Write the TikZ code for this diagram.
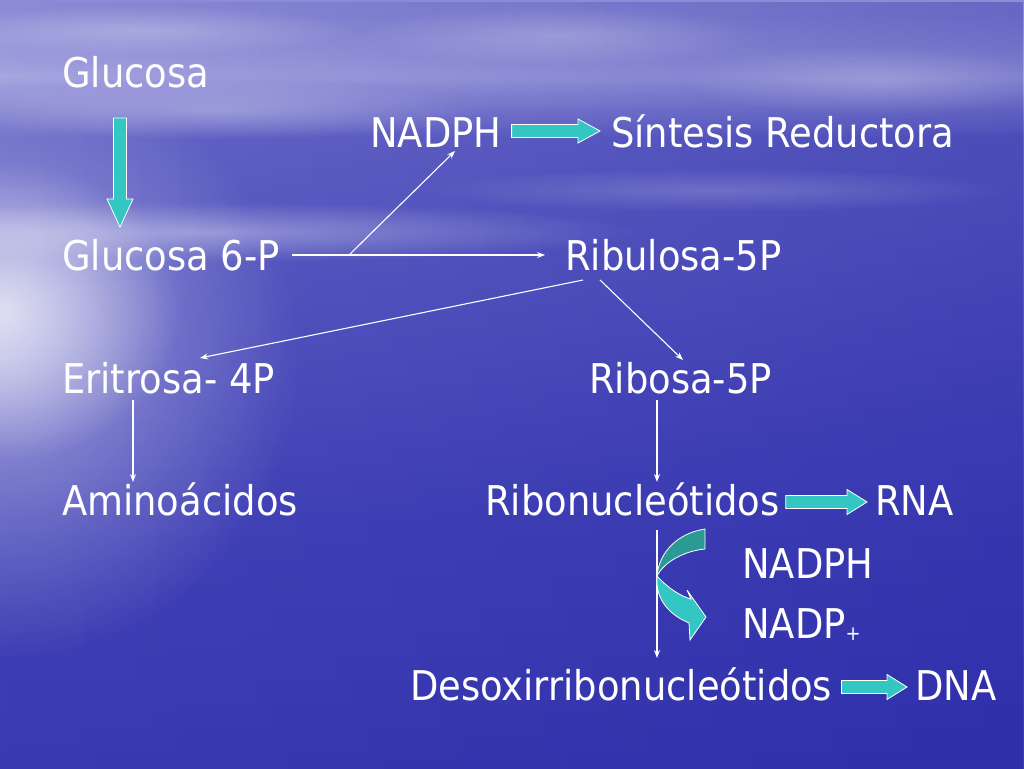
\documentclass[tikz,border=0pt]{standalone}
\usepackage{fontspec}
\setmainfont{DejaVu Sans Condensed}
\usetikzlibrary{calc,fadings,arrows.meta}
\definecolor{tealA}{HTML}{33C6C2}
\definecolor{tealD}{HTML}{2A9A92}
\definecolor{bgA}{HTML}{7474CA}
\definecolor{bgB}{HTML}{8C8CD6}
\definecolor{bgC}{HTML}{A4A4E0}
\definecolor{bgD}{HTML}{6464C6}
\definecolor{bgE}{HTML}{4444B8}
\definecolor{bgF}{HTML}{2A2AA6}
\definecolor{bgDark}{HTML}{16169C}
\pgfdeclareverticalshading{bgsh}{100bp}{color(0bp)=(bgF); color(41bp)=(bgE); color(66bp)=(bgD); color(70bp)=(bgC); color(74bp)=(bgB); color(100bp)=(bgA)}
\tikzfading[name=glowfade, inner color=transparent!0, outer color=transparent!100]
\newcommand\hblk[5]{\draw[blk] let \p1=#1, \p2=#2 in (\x1,\y1+#3) -- (\x2-#5,\y1+#3) -- (\x2-#5,\y1+#4) -- (\x2,\y1) -- (\x2-#5,\y1-#4) -- (\x2-#5,\y1-#3) -- (\x1,\y1-#3) -- cycle;}
\newcommand\vblk[5]{\draw[blk] let \p1=#1, \p2=#2 in (\x1+#3,\y1) -- (\x1+#3,\y2+#5) -- (\x1+#4,\y2+#5) -- (\x1,\y2) -- (\x1-#4,\y2+#5) -- (\x1-#3,\y2+#5) -- (\x1-#3,\y1) -- cycle;}
\begin{document}
\begin{tikzpicture}[x=1pt,y=-1pt,
  lbl/.style={anchor=base west, inner sep=0pt, text=white, font=\fontsize{41}{49}\selectfont},
  thinarr/.style={draw=white, line width=1.1pt, -{Stealth[length=8pt,width=6pt]}},
  blk/.style={fill=tealA, draw=white, line width=0.8pt, line join=miter}]
% background
\useasboundingbox (0,0) rectangle (1024,768);
\shade[shading=bgsh] (0,0) rectangle (1024,768);
\fill[bgDark, opacity=0.3, path fading=west] (0,0) rectangle (1024,768);
\fill[white, opacity=0.45, path fading=glowfade] (0,360) ellipse (300 and 300);
\fill[white, opacity=0.7, path fading=glowfade] (0,310) ellipse (180 and 150);
\fill[white, opacity=0.35, path fading=glowfade] (200,232) ellipse (440 and 30);
\fill[white, opacity=0.25, path fading=glowfade] (220,110) ellipse (260 and 30);
\fill[white, opacity=0.25, path fading=glowfade] (140,30) ellipse (220 and 25);
\fill[white, opacity=0.22, path fading=glowfade] (560,35) ellipse (200 and 30);
\fill[white, opacity=0.22, path fading=glowfade] (880,80) ellipse (200 and 35);
\fill[white, opacity=0.18, path fading=glowfade] (720,190) ellipse (300 and 22);
% labels
\node[lbl] (gluc) at (62,87) {Glucosa};
\node[lbl] (nadph1) at (370,147) {NADPH};
\node[lbl] (sint) at (611,147) {Síntesis Reductora};
\node[lbl] (g6p) at (62,270) {Glucosa 6-P};
\node[lbl] (ribu) at (565,270) {Ribulosa-5P};
\node[lbl] (erit) at (62,393) {Eritrosa- 4P};
\node[lbl] (ribosa) at (589,393) {Ribosa-5P};
\node[lbl] (amino) at (62,515) {Aminoácidos};
\node[lbl] (ribonuc) at (485,515) {Ribonucleótidos};
\node[lbl] (rna) at (875,515) {RNA};
\node[lbl] (nadph2) at (742,578) {NADPH};
\node[lbl] (nadp) at (742,638) {NADP\raisebox{-2pt}{\fontsize{20}{20}\selectfont +}};
\node[lbl] (desoxi) at (410,700) {Desoxirribonucleótidos};
\node[lbl] (dna) at (915,700) {DNA};
% block arrows
\coordinate (d1s) at ([xshift=58pt,yshift=-31pt]gluc.base west);
\coordinate (d1e) at ([xshift=58pt,yshift=43pt]g6p.base west);
\vblk{(d1s)}{(d1e)}{6.5pt}{13pt}{28pt}
\coordinate (a1s) at ([xshift=10pt,yshift=16pt]nadph1.base east);
\coordinate (a1e) at ([xshift=-11pt,yshift=16pt]sint.base west);
\hblk{(a1s)}{(a1e)}{6.5pt}{12pt}{22pt}
\coordinate (a2s) at ([xshift=6pt,yshift=13pt]ribonuc.base east);
\coordinate (a2e) at ([xshift=-8pt,yshift=13pt]rna.base west);
\hblk{(a2s)}{(a2e)}{6.5pt}{12.5pt}{20pt}
\coordinate (a3s) at ([xshift=9pt,yshift=13pt]desoxi.base east);
\coordinate (a3e) at ([xshift=-8pt,yshift=13pt]dna.base west);
\hblk{(a3s)}{(a3e)}{6.5pt}{12.5pt}{20pt}
% thin arrows
\coordinate (g6s) at ([xshift=12pt,yshift=15pt]g6p.base east);
\coordinate (br) at ([xshift=69pt,yshift=15pt]g6p.base east);
\draw[thinarr] (g6s) -- ([xshift=-20pt,yshift=15pt]ribu.base west);
\draw[thinarr] (br) -- ([xshift=85pt,yshift=-4pt]nadph1.base west);
\draw[thinarr] ([xshift=18pt,yshift=-10pt]ribu.base west) -- ([xshift=138pt,yshift=35pt]erit.base west);
\draw[thinarr] ([xshift=35pt,yshift=-10pt]ribu.base west) -- ([xshift=94pt,yshift=33pt]ribosa.base west);
\draw[thinarr] ([xshift=71pt,yshift=-7pt]erit.base west) -- ([xshift=71pt,yshift=33pt]amino.base west);
\draw[thinarr] ([xshift=68pt,yshift=-7pt]ribosa.base west) -- ([xshift=172pt,yshift=33pt]ribonuc.base west);
\draw[thinarr] ([xshift=172pt,yshift=-15pt]ribonuc.base west) -- ([xshift=247pt,yshift=42pt]desoxi.base west);
% curved arrow
\draw[fill=tealD, draw=white, line width=0.8pt] (705,529) .. controls (678,533) and (659,552) .. (657,576) .. controls (664,562) and (684,551) .. (705,549) -- cycle;
\draw[fill=tealA, draw=white, line width=0.8pt, line join=miter] (657,576) .. controls (668,588) and (680,596) .. (691,599) -- (687,590) -- (706,617) -- (690,640) -- (689,623) .. controls (670,615) and (655,600) .. (657,576) -- cycle;
\end{tikzpicture}
\end{document}
